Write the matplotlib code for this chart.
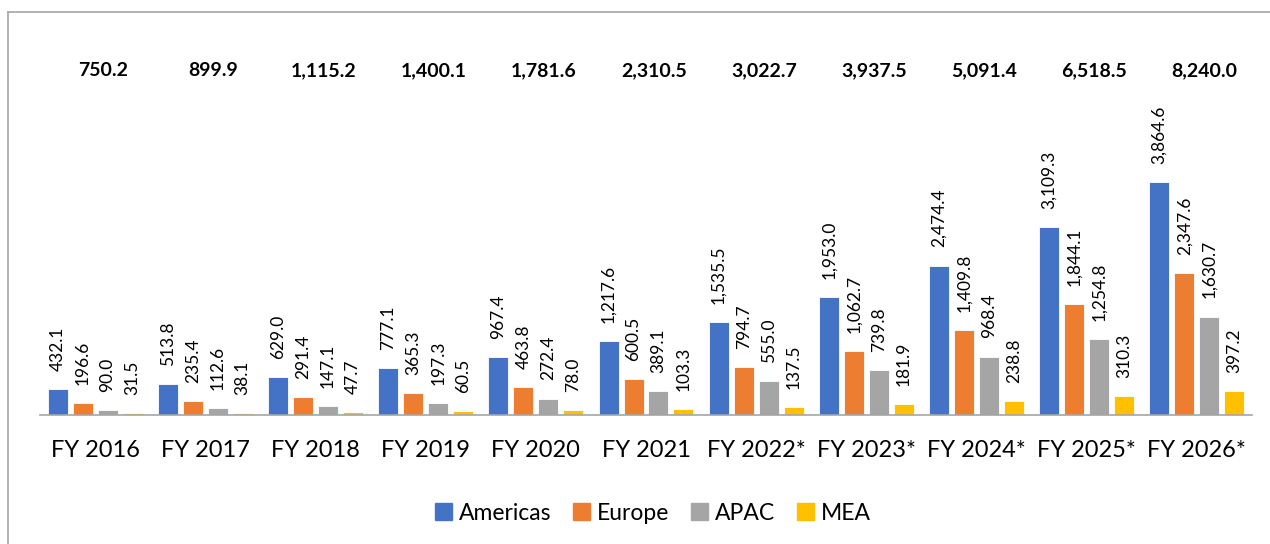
import matplotlib
matplotlib.use("Agg")
import matplotlib.pyplot as plt
from matplotlib.lines import Line2D
import numpy as np

plt.rcParams['font.family'] = ['Lato', 'DejaVu Sans']

categories = ["FY 2016", "FY 2017", "FY 2018", "FY 2019", "FY 2020", "FY 2021",
              "FY 2022*", "FY 2023*", "FY 2024*", "FY 2025*", "FY 2026*"]
series_names = ["Americas", "Europe", "APAC", "MEA"]
americas = [432.1, 513.8, 629.0, 777.1, 967.4, 1217.6, 1535.5, 1953.0, 2474.4, 3109.3, 3864.6]
europe = [196.6, 235.4, 291.4, 365.3, 463.8, 600.5, 794.7, 1062.7, 1409.8, 1844.1, 2347.6]
apac = [90.0, 112.6, 147.1, 197.3, 272.4, 389.1, 555.0, 739.8, 968.4, 1254.8, 1630.7]
mea = [31.5, 38.1, 47.7, 60.5, 78.0, 103.3, 137.5, 181.9, 238.8, 310.3, 397.2]
totals = [750.2, 899.9, 1115.2, 1400.1, 1781.6, 2310.5, 3022.7, 3937.5, 5091.4, 6518.5, 8240.0]

colors = ["#4472C4", "#ED7D31", "#A5A5A5", "#FFC000"]

W, H = 1270, 544
fig = plt.figure(figsize=(W / 100, H / 100), dpi=100)

# axes placement in pixels
ax_left, ax_right, ax_bottom, ax_top = 40, 1252, 415, 40
ax = fig.add_axes([ax_left / W, 1 - ax_bottom / H, (ax_right - ax_left) / W, (ax_bottom - ax_top) / H])
px_per_unit = 0.0604
ax.set_ylim(0, (ax_bottom - ax_top) / px_per_unit)
n = len(categories)
ax.set_xlim(0, n)

x = np.arange(n) + 0.5
pitch = 25 / 110.2
width = 20 / 110.2
data = [americas, europe, apac, mea]
for i, (vals, c, name) in enumerate(zip(data, colors, series_names)):
    xs = x + (i - 1.5) * pitch
    ax.bar(xs, vals, width=width, color=c, edgecolor="white", linewidth=0.6, label=name)
    for xi, v in zip(xs, vals):
        ax.annotate(f"{v:,.1f}", (xi, v), xytext=(0, 13), textcoords="offset points",
                    rotation=90, ha="center", va="bottom", fontsize=12.5, color="black")

for xi, t in zip(x, totals):
    ax.text(xi + 0.07, 1 - (71 - ax_top) / (ax_bottom - ax_top), f"{t:,.1f}",
            transform=ax.get_xaxis_transform(), ha="center", va="center",
            fontsize=14, fontweight="bold", color="black")

for s in ["top", "right", "left"]:
    ax.spines[s].set_visible(False)
ax.spines["bottom"].set_color("#A6A6A6")
ax.spines["bottom"].set_linewidth(1.2)
ax.set_yticks([])
ax.set_xticks(x)
ax.set_xticklabels(categories, fontsize=17)
ax.tick_params(axis="x", length=0, pad=18)

handles = [plt.Rectangle((0, 0), 1, 1, color=c) for c in colors]
fig.legend(handles, series_names, loc="center", bbox_to_anchor=(653 / W, 1 - 513 / H),
           ncol=4, frameon=False, fontsize=16.5, handlelength=0.75, handleheight=0.75,
           handletextpad=0.3, columnspacing=0.95)

# outer frame (top and left only visible)
fig.add_artist(Line2D([7.5 / W, 1.0], [1 - 11.5 / H, 1 - 11.5 / H], transform=fig.transFigure,
                      color="#A6A6A6", linewidth=1.2))
fig.add_artist(Line2D([7.5 / W, 7.5 / W], [0, 1 - 11.5 / H], transform=fig.transFigure,
                      color="#A6A6A6", linewidth=1.2))

fig.savefig("out.png", dpi=100, facecolor="white")
